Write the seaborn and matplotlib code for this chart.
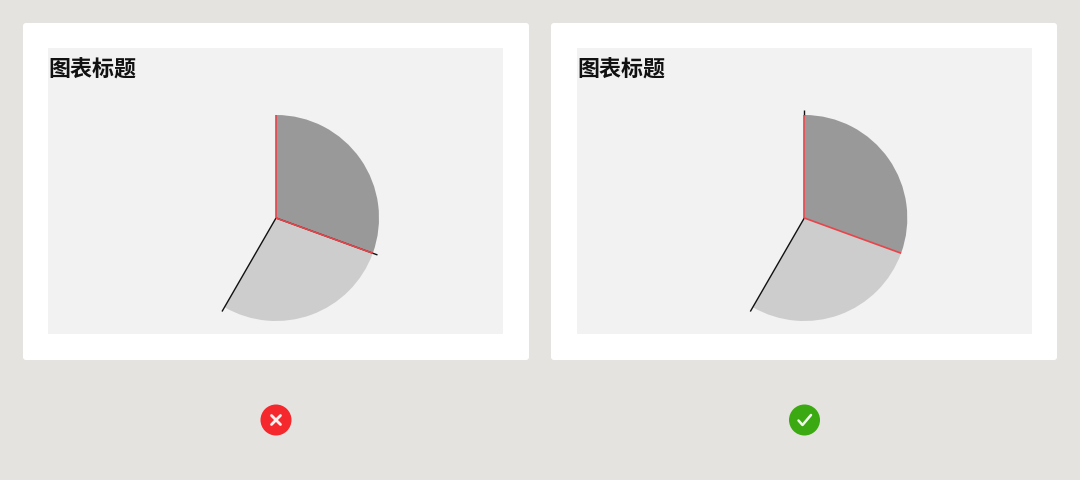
import numpy as np
import matplotlib
matplotlib.use("Agg")
import matplotlib.pyplot as plt
from matplotlib.patches import Circle, FancyBboxPatch
import seaborn as sns

# ----------------------------
# Data (slice sizes, the last one is left blank)
# ----------------------------
title = "图表标题"
slice_values = [110, 100, 150]
slice_colors = ["#999999", "#CDCDCD", "none"]

# black leader length per slice edge (0 = none), wrong version vs right version
leaders_wrong = [0, 108, 108]
leaders_right = [108, 0, 108]

# ----------------------------
# Theme
# ----------------------------
sns.set_theme(style="white")
plt.rcParams['font.family'] = ['Noto Sans CJK SC', 'DejaVu Sans']

PAGE = "#E5E3DF"
PANEL = "#F2F2F2"
RED = "#E8444A"
W, H = 1080, 480
RADIUS = 103

fig = plt.figure(figsize=(W / 100, H / 100), dpi=100, facecolor=PAGE)

# background layer in pixel coordinates
bg = fig.add_axes([0, 0, 1, 1], zorder=0)
bg.set_xlim(0, W)
bg.set_ylim(H, 0)
bg.axis("off")


def draw_card(card_left, panel_left, leaders, cx):
    # white card
    bg.add_patch(FancyBboxPatch((card_left + 2, 25), 502, 333,
                                boxstyle="round,pad=2,rounding_size=3",
                                fc="white", ec="none"))
    # grey panel, one data unit = one pixel
    ax_top, ax_w, ax_h = 48, 455, 286
    ax = fig.add_axes([panel_left / W, 1 - (ax_top + ax_h) / H, ax_w / W, ax_h / H], zorder=1)
    ax.set_facecolor(PANEL)
    center = (cx - panel_left, ax_top + ax_h - 218)
    ax.pie(slice_values, colors=slice_colors, startangle=90, counterclock=False,
           center=center, radius=RADIUS, frame=True, wedgeprops={"linewidth": 0})
    ax.set_xlim(0, ax_w)
    ax.set_ylim(0, ax_h)
    ax.set_aspect("equal")
    ax.set_xticks([])
    ax.set_yticks([])
    for s in ax.spines.values():
        s.set_visible(False)

    # edges of the slices come from the cumulative values
    cum = np.cumsum([0] + slice_values[:-1]) / np.sum(slice_values) * 2 * np.pi
    for i, a in enumerate(cum):
        if leaders[i] == 0:
            continue
        # the top edge only sticks out past the red line
        start = RADIUS if i == 0 else 0
        ax.plot([center[0] + start * np.sin(a), center[0] + leaders[i] * np.sin(a)],
                [center[1] + start * np.cos(a), center[1] + leaders[i] * np.cos(a)],
                color="#111111", lw=1.0, solid_capstyle="butt", zorder=5)
    for a in cum[:2]:
        ax.plot([center[0], center[0] + RADIUS * np.sin(a)],
                [center[1], center[1] + RADIUS * np.cos(a)],
                color=RED, lw=1.2, solid_capstyle="butt", zorder=6)

    ax.text(0, ax_h - 22, title, fontsize=15.8, fontweight="bold", color="#111111",
            va="center", ha="left")


draw_card(23, 48, leaders_wrong, 276)
draw_card(551, 577, leaders_right, 804.3)

# ----------------------------
# Badges under the cards
# ----------------------------
bg.add_patch(Circle((276, 420), 15.5, fc="#F5282D", ec="none"))
bg.plot([271.5, 280.5], [415.5, 424.5], color="#FFF0F0", lw=2.0, solid_capstyle="round")
bg.plot([271.5, 280.5], [424.5, 415.5], color="#FFF0F0", lw=2.0, solid_capstyle="round")

bg.add_patch(Circle((804.5, 420), 15.5, fc="#3BAA12", ec="none"))
bg.plot([798.5, 802.5, 811], [420.5, 425, 415], color="#F4FBF0", lw=1.8,
        solid_capstyle="round", solid_joinstyle="round")

fig.savefig("out.png", dpi=100, facecolor=PAGE)
